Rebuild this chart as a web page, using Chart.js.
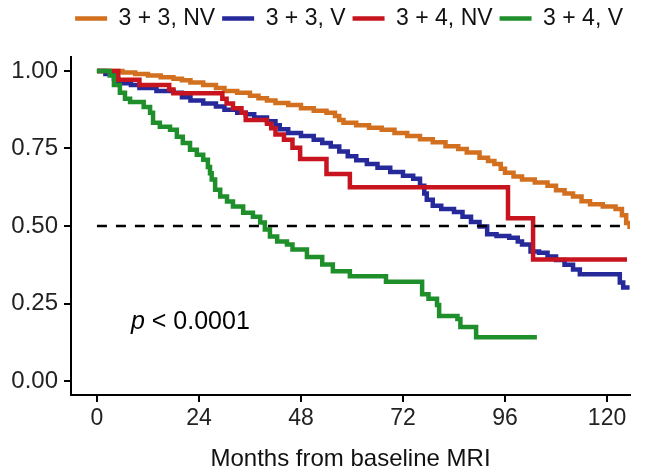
<!DOCTYPE html>
<html>
<head>
<meta charset="utf-8">
<script src="https://cdn.jsdelivr.net/npm/chart.js@4.4.1/dist/chart.umd.min.js"></script>
<style>
html,body{margin:0;padding:0;background:#fff;}
#wrap{width:649px;height:468px;}
</style>
</head>
<body>
<div id="wrap"><canvas id="c" width="649" height="468"></canvas></div>
<script>
// ---- data (months, survival probability) ----
const seriesNames = ["3 + 3, NV", "3 + 3, V", "3 + 4, NV", "3 + 4, V"];

const nv33Months = [0,6,9,12,15,18,20,22,25,28,30,33,36,38,40,42,45,48,51,54,56,57,58,61,64,67,70,73,76,79,82,85,87,90,92,93.5,95,96,98,100,103,106,108,110,112,114,116,119,122,123.5,124.5,125.3];
const nv33Surv   = [1,0.995,0.99,0.985,0.98,0.975,0.97,0.963,0.955,0.945,0.935,0.93,0.92,0.912,0.905,0.897,0.89,0.88,0.872,0.865,0.855,0.842,0.833,0.825,0.817,0.81,0.8,0.79,0.78,0.77,0.757,0.748,0.737,0.72,0.71,0.70,0.685,0.672,0.66,0.65,0.64,0.63,0.615,0.605,0.595,0.58,0.57,0.563,0.555,0.535,0.51,0.49];

const v33Months = [0,2,4,5,8,10,14,18,20,22,25,28,30,33,35,37,40,42,43,45,48,51,53,55,57,59,61,63.5,66,69,72,74.4,76,77,77.6,79,81,84,86,88,90,91.8,94,97,99,100,102,104,106,108,110,112,113.6,121.4,123,123.8,125.3];
const v33Surv   = [1,0.99,0.975,0.96,0.955,0.945,0.935,0.93,0.915,0.905,0.895,0.885,0.875,0.865,0.86,0.85,0.838,0.825,0.812,0.80,0.79,0.778,0.768,0.756,0.74,0.725,0.712,0.70,0.688,0.674,0.662,0.652,0.63,0.605,0.585,0.565,0.555,0.545,0.53,0.513,0.498,0.473,0.468,0.462,0.45,0.44,0.418,0.414,0.402,0.39,0.375,0.36,0.344,0.344,0.318,0.302,0.302];

const nv34Months = [0,5,10,17,18,29.5,30.5,32,34,35,40,41,42,44,46,47.8,54,59.5,96.7,102.6,124.7];
const nv34Surv   = [1,0.972,0.955,0.94,0.928,0.91,0.895,0.88,0.865,0.842,0.83,0.815,0.795,0.778,0.752,0.716,0.668,0.625,0.525,0.392,0.392];

const v34Months = [0,3,4,5.4,6.6,7.8,11,12.5,13.2,14.8,17.2,18.8,20.2,21.9,23.5,25,26.1,26.6,27,27.8,29,30.6,32,34.4,36.7,38.4,39.5,40.7,42.4,44.7,46,49.4,53,55.5,59.5,68,76.5,78,80,80.5,84.8,85.5,89.2,103.5];
const v34Surv   = [1,0.985,0.955,0.93,0.91,0.90,0.884,0.865,0.833,0.82,0.81,0.788,0.768,0.746,0.73,0.714,0.69,0.67,0.65,0.617,0.595,0.579,0.563,0.543,0.53,0.511,0.489,0.466,0.45,0.44,0.424,0.40,0.376,0.354,0.338,0.32,0.28,0.265,0.245,0.21,0.2,0.174,0.141,0.141];

const medianMonths = [0, 125];
const medianSurv   = [0.5, 0.5];

const xTicks = [0, 24, 48, 72, 96, 120];
const yTicks = [0, 0.25, 0.5, 0.75, 1];
const xTitle = "Months from baseline MRI";
const pText = ["p", " < 0.0001"];
const pPos = [8, 0.19];

const colors = ["#d2701f", "#25299a", "#c8141e", "#1f8f2c"];

const zip = (xs, ys) => xs.map((x, i) => ({x: x, y: ys[i]}));
const FONT = "'Liberation Sans', Arial, Helvetica, sans-serif";
const LEGEND_H = 57;

const legendHeight = {
  id: 'legendHeight',
  beforeLayout(chart) {
    const lg = chart.legend;
    if (lg && !lg._patched) {
      const f = lg.fit;
      lg.fit = function () { f.call(this); this.height = LEGEND_H; };
      lg._patched = true;
    }
  }
};

const pLabel = {
  id: 'pLabel',
  afterDatasetsDraw(chart) {
    const ctx = chart.ctx;
    const x = chart.scales.x.getPixelForValue(pPos[0]);
    const y = chart.scales.y.getPixelForValue(pPos[1]);
    ctx.save();
    ctx.fillStyle = '#000';
    ctx.textBaseline = 'middle';
    ctx.textAlign = 'left';
    ctx.font = "italic 25px " + FONT;
    ctx.fillText(pText[0], x, y);
    const w = ctx.measureText(pText[0]).width;
    ctx.font = "25px " + FONT;
    ctx.fillText(pText[1], x + w, y);
    ctx.restore();
  }
};

const whiteBg = {
  id: 'whiteBg',
  beforeDraw(chart) {
    const ctx = chart.ctx;
    ctx.save();
    ctx.fillStyle = '#fff';
    ctx.fillRect(0, 0, chart.width, chart.height);
    ctx.restore();
  }
};

const curveData = [zip(nv33Months, nv33Surv), zip(v33Months, v33Surv), zip(nv34Months, nv34Surv), zip(v34Months, v34Surv)];
const datasets = curveData.map((d, i) => ({
  label: seriesNames[i],
  data: d,
  borderColor: colors[i],
  backgroundColor: colors[i],
  borderWidth: 4.5,
  stepped: 'before',
  pointRadius: 0,
  fill: false,
  order: 4 - i,
  pointStyle: 'line',
  borderCapStyle: 'butt',
  borderJoinStyle: 'miter'
}));
datasets.push({
  label: 'median',
  data: zip(medianMonths, medianSurv),
  borderColor: '#000',
  borderWidth: 2.5,
  borderDash: [10, 9],
  pointRadius: 0,
  fill: false,
  order: 0
});

new Chart(document.getElementById('c'), {
  type: 'line',
  data: { datasets: datasets },
  options: {
    responsive: false,
    animation: false,
    devicePixelRatio: 1,
    layout: { padding: { left: 0, right: 19, top: 0, bottom: 0 } },
    plugins: {
      legend: {
        display: true,
        position: 'top',
        align: 'end',
        labels: {
          usePointStyle: true,
          pointStyleWidth: 32,
          padding: 7,
          color: '#111',
          font: { family: FONT, size: 23 },
          filter: (item) => item.datasetIndex < 4,
          sort: (a, b) => a.datasetIndex - b.datasetIndex
        }
      },
      tooltip: { enabled: false }
    },
    scales: {
      x: {
        type: 'linear',
        min: -6.1,
        max: 125.4,
        afterBuildTicks: (s) => { s.ticks = xTicks.map(v => ({ value: v })); },
        afterFit: (s) => { s.height = 73; },
        border: { display: true, color: '#000', width: 2 },
        grid: { drawOnChartArea: false, drawTicks: true, tickLength: 7, color: '#000', lineWidth: 2 },
        ticks: { color: '#222', font: { family: FONT, size: 23 }, padding: 3, maxRotation: 0, autoSkip: false },
        title: { display: true, text: xTitle, color: '#111', font: { family: FONT, size: 24 }, padding: { top: 0, bottom: -6 } }
      },
      y: {
        type: 'linear',
        min: -0.045,
        max: 1.045,
        afterBuildTicks: (s) => { s.ticks = yTicks.map(v => ({ value: v })); },
        afterFit: (s) => { s.width = 71; },
        border: { display: true, color: '#000', width: 2 },
        grid: { drawOnChartArea: false, drawTicks: true, tickLength: 7, color: '#000', lineWidth: 2 },
        ticks: { color: '#222', font: { family: FONT, size: 24 }, padding: 6, callback: (v) => Number(v).toFixed(2) }
      }
    }
  },
  plugins: [whiteBg, legendHeight, pLabel]
});
</script>
</body>
</html>
